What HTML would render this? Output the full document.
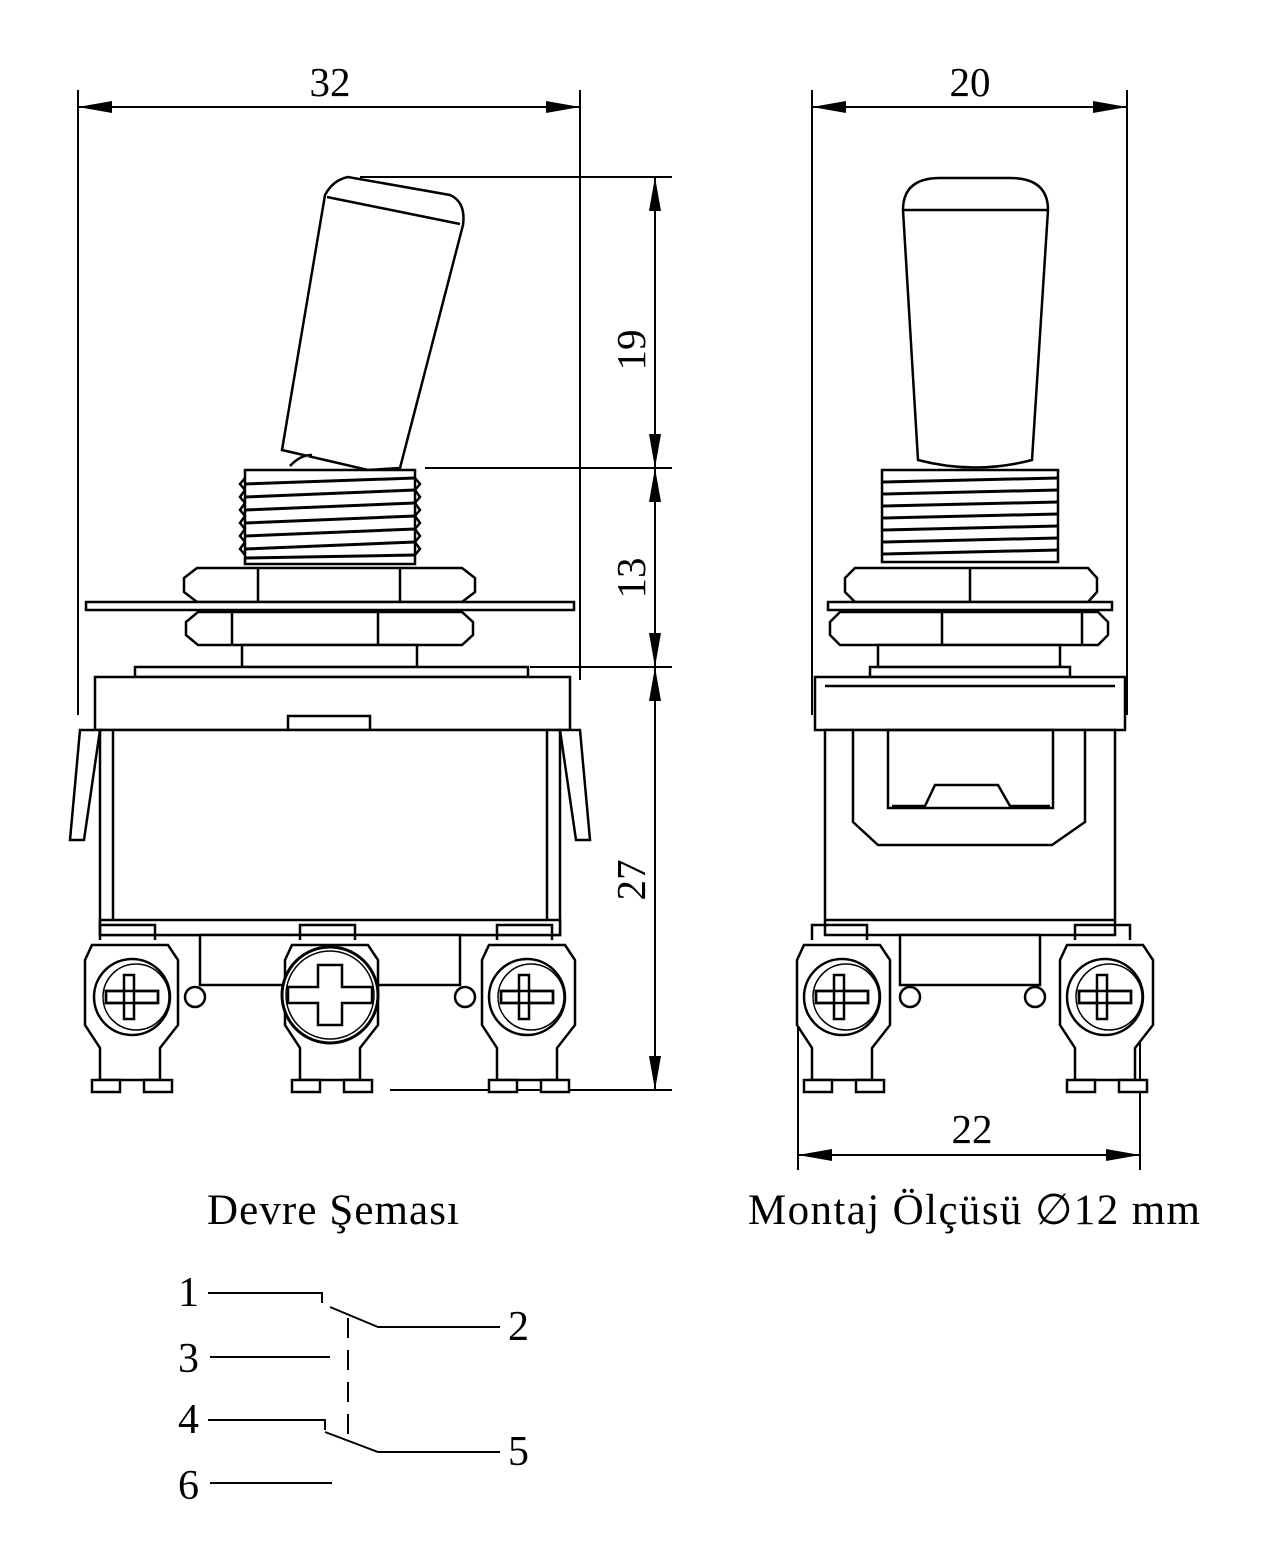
<!DOCTYPE html>
<html><head><meta charset="utf-8"><style>
html,body{margin:0;padding:0;background:#fff}
svg{display:block}
text{font-family:"Liberation Serif",serif;fill:#000}
</style></head><body>
<svg width="1268" height="1565" viewBox="0 0 1268 1565" xmlns="http://www.w3.org/2000/svg">
<defs>
<marker id="a" markerWidth="34" markerHeight="12" refX="34" refY="6" orient="auto-start-reverse" markerUnits="userSpaceOnUse"><path d="M0,0 L34,6 L0,12 Z" fill="#000"/></marker>
<g id="screwL">
 <circle cx="0" cy="0" r="38" fill="#fff" stroke="#000" stroke-width="2.5"/>
 <circle cx="4" cy="0" r="33" fill="none" stroke="#000" stroke-width="1.5"/>
 <rect x="-26" y="-6" width="52" height="12" fill="#fff" stroke="#000" stroke-width="2.5"/>
 <rect x="-8" y="-22" width="10" height="44" fill="#fff" stroke="#000" stroke-width="2.5"/>
 <rect x="-26" y="-6" width="52" height="12" fill="none" stroke="#000" stroke-width="2.5"/>
</g>
<g id="term">
 <path d="M-30,-60 L-30,-75 L25,-75 L25,-60" fill="none" stroke="#000" stroke-width="2.5"/>
 <path d="M-38,-55 L38,-55 L48,-40 L48,25 L30,48 L30,80 L-30,80 L-30,48 L-45,25 L-45,-40 Z" fill="#fff" stroke="#000" stroke-width="2.5"/>
 <rect x="-38" y="80" width="28" height="12" fill="#fff" stroke="#000" stroke-width="2.5"/>
 <rect x="14" y="80" width="28" height="12" fill="#fff" stroke="#000" stroke-width="2.5"/>
</g>
</defs>
<g stroke="#000" fill="none" stroke-width="2">
<line x1="78" y1="90" x2="78" y2="715"/>
<line x1="580" y1="90" x2="580" y2="680"/>
<line x1="78" y1="107" x2="580" y2="107" marker-start="url(#a)" marker-end="url(#a)"/>
<line x1="360" y1="177" x2="672" y2="177"/>
<line x1="425" y1="468" x2="672" y2="468"/>
<line x1="530" y1="667" x2="672" y2="667"/>
<line x1="390" y1="1090" x2="672" y2="1090"/>
<line x1="655" y1="177" x2="655" y2="468" marker-start="url(#a)" marker-end="url(#a)"/>
<line x1="655" y1="468" x2="655" y2="667" marker-start="url(#a)" marker-end="url(#a)"/>
<line x1="655" y1="667" x2="655" y2="1090" marker-start="url(#a)" marker-end="url(#a)"/>
</g>
<g stroke="#000" fill="#fff" stroke-width="2.5">
<path d="M282,450 L325,195 Q333,180 348,177 L450,195 Q466,202 463,225 L400,468 L368,470 Z"/>
<line x1="327" y1="197" x2="460" y2="224"/>
<path d="M290,466 Q300,455 312,455"/>
<rect x="245" y="470" width="170" height="94"/>
<path d="M245,478 L240,484 L245,490 M415,478 L420,484 L415,490 M245,490 L240,497 L245,503 M415,490 L420,497 L415,503 M245,503 L240,510 L245,516 M415,503 L420,510 L415,516 M245,516 L240,523 L245,529 M415,516 L420,523 L415,529 M245,529 L240,536 L245,542 M415,529 L420,536 L415,542 M245,542 L240,549 L245,555 M415,542 L420,549 L415,555" fill="none"/>
<path d="M245,484 L415,478 M245,497 L415,490 M245,510 L415,503 M245,523 L415,516 M245,536 L415,529 M245,549 L415,542 M245,558 L415,555" fill="none" stroke-width="3"/>
<path d="M184,578 L197,568 L462,568 L475,578 L475,592 L462,602 L197,602 L184,592 Z"/>
<line x1="258" y1="568" x2="258" y2="602"/><line x1="400" y1="568" x2="400" y2="602"/>
<rect x="86" y="602" width="488" height="8"/>
<path d="M186,622 L198,612 L462,612 L473,622 L473,635 L462,645 L198,645 L186,635 Z"/>
<line x1="232" y1="612" x2="232" y2="645"/><line x1="378" y1="612" x2="378" y2="645"/>
<rect x="242" y="645" width="175" height="22"/>
<rect x="135" y="667" width="393" height="10"/>
<rect x="95" y="677" width="475" height="53"/>
<rect x="288" y="716" width="82" height="14"/>
<rect x="100" y="730" width="460" height="205"/>
<line x1="113" y1="730" x2="113" y2="920"/><line x1="547" y1="730" x2="547" y2="920"/>
<path d="M80,730 L100,730 L84,840 L70,840 Z"/>
<path d="M580,730 L560,730 L576,840 L590,840 Z"/>
<path d="M100,920 L560,920 L560,935 L100,935 Z"/>
<rect x="200" y="935" width="260" height="50"/>
</g>
<g transform="translate(130,1000)"><use href="#term"/></g>
<g transform="translate(330,1000)"><use href="#term"/></g>
<g transform="translate(527,1000)"><use href="#term"/></g>
<circle cx="195" cy="997" r="10" fill="#fff" stroke="#000" stroke-width="2.5"/>
<circle cx="465" cy="997" r="10" fill="#fff" stroke="#000" stroke-width="2.5"/>
<g transform="translate(132,997)"><use href="#screwL"/></g>
<g transform="translate(330,995)"><circle r="48" fill="#fff" stroke="#000" stroke-width="3"/><circle r="44" fill="none" stroke="#000" stroke-width="1.5"/><path d="M-42,-8 H-12 V-30 H12 V-8 H42 V8 H12 V30 H-12 V8 H-42 Z" fill="#fff" stroke="#000" stroke-width="2.5"/></g>
<g transform="translate(527,997)"><use href="#screwL"/></g>

<g stroke="#000" fill="none" stroke-width="2">
<line x1="812" y1="90" x2="812" y2="715"/>
<line x1="1127" y1="90" x2="1127" y2="715"/>
<line x1="812" y1="107" x2="1127" y2="107" marker-start="url(#a)" marker-end="url(#a)"/>
<line x1="798" y1="985" x2="798" y2="1170"/>
<line x1="1140" y1="985" x2="1140" y2="1170"/>
<line x1="798" y1="1155" x2="1140" y2="1155" marker-start="url(#a)" marker-end="url(#a)"/>
</g>
<g stroke="#000" fill="#fff" stroke-width="2.5">
<path d="M903,210 Q903,178 940,178 L1010,178 Q1048,178 1048,210 L1032,460 Q975,475 918,460 Z"/>
<line x1="903" y1="210" x2="1048" y2="210"/>
<rect x="882" y="470" width="176" height="92"/>
<path d="M882,482 L1058,478 M882,494 L1058,490 M882,506 L1058,502 M882,518 L1058,514 M882,530 L1058,526 M882,542 L1058,538 M882,554 L1058,550" fill="none" stroke-width="3"/>
<path d="M845,578 L855,568 L1088,568 L1097,578 L1097,592 L1088,602 L855,602 L845,592 Z"/>
<line x1="970" y1="568" x2="970" y2="602"/>
<rect x="828" y="602" width="284" height="8"/>
<path d="M830,622 L840,612 L1098,612 L1108,622 L1108,635 L1098,645 L840,645 L830,635 Z"/>
<line x1="942" y1="612" x2="942" y2="645"/><line x1="1082" y1="612" x2="1082" y2="645"/>
<rect x="878" y="645" width="182" height="22"/>
<rect x="870" y="667" width="200" height="10"/>
<rect x="815" y="677" width="310" height="53"/>
<line x1="825" y1="686" x2="1115" y2="686"/>
<rect x="825" y="730" width="290" height="205"/>
<path d="M853,730 L853,822 L878,845 L1052,845 L1085,822 L1085,730" fill="none"/>
<rect x="888" y="730" width="165" height="78" fill="none"/>
<path d="M892,806 L925,806 L935,785 L998,785 L1010,806 L1050,806" fill="none"/>
<path d="M825,920 L1115,920" fill="none"/>
<rect x="900" y="935" width="140" height="50"/>
</g>
<g transform="translate(842,1000)"><use href="#term"/></g>
<g transform="translate(1105,1000)"><use href="#term"/></g>
<circle cx="910" cy="997" r="10" fill="#fff" stroke="#000" stroke-width="2.5"/>
<circle cx="1035" cy="997" r="10" fill="#fff" stroke="#000" stroke-width="2.5"/>
<g transform="translate(842,997)"><use href="#screwL"/></g>
<g transform="translate(1105,997)"><use href="#screwL"/></g>

<text x="330" y="96" font-size="41" text-anchor="middle">32</text>
<text x="970" y="96" font-size="41" text-anchor="middle">20</text>
<text x="972" y="1143" font-size="41" text-anchor="middle">22</text>
<text transform="translate(645,350) rotate(-90)" font-size="41" text-anchor="middle">19</text>
<text transform="translate(645,578) rotate(-90)" font-size="41" text-anchor="middle">13</text>
<text transform="translate(645,880) rotate(-90)" font-size="41" text-anchor="middle">27</text>
<text x="207" y="1224" font-size="43" textLength="252">Devre Şeması</text>
<text x="748" y="1224" font-size="43" textLength="452">Montaj Ölçüsü  ∅12 mm</text>

<g font-size="42">
<text x="178" y="1306">1</text><text x="508" y="1340">2</text>
<text x="178" y="1372">3</text><text x="178" y="1433">4</text>
<text x="508" y="1465">5</text><text x="178" y="1499">6</text>
</g>
<g stroke="#000" fill="none" stroke-width="2">
<path d="M208,1293 L322,1293 L322,1303"/>
<path d="M330,1307 L378,1327 L500,1327"/>
<line x1="210" y1="1357" x2="330" y2="1357"/>
<path d="M208,1420 L325,1420 L325,1430"/>
<path d="M325,1432 L378,1452 L500,1452"/>
<line x1="210" y1="1483" x2="332" y2="1483"/>
<line x1="348" y1="1318" x2="348" y2="1440" stroke-dasharray="20,12"/>
</g>
</svg>
</body></html>
